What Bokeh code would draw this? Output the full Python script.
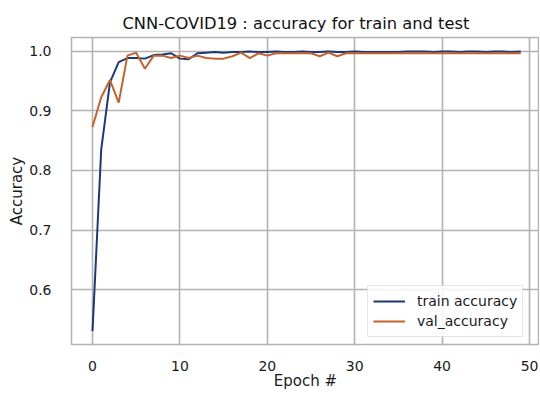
from bokeh.plotting import figure
from bokeh.models import Range1d, FixedTicker, PrintfTickFormatter, Legend, LegendItem
from bokeh.embed import file_html
from bokeh.resources import INLINE

epochs = list(range(50))
train_acc = [0.530, 0.835, 0.948, 0.982, 0.989, 0.989, 0.988, 0.994, 0.995, 0.997,
             0.988, 0.987, 0.997, 0.998, 0.999, 0.998, 0.999, 0.999, 1.000, 0.999,
             0.999, 1.000, 0.999, 0.999, 1.000, 0.999, 0.999, 1.000, 0.999, 0.999,
             1.000, 0.999, 0.999, 0.999, 0.999, 0.999, 1.000, 1.000, 1.000, 0.999,
             1.000, 1.000, 0.999, 1.000, 1.000, 0.999, 1.000, 1.000, 0.999, 1.000]
val_acc = [0.873, 0.923, 0.952, 0.914, 0.993, 0.998, 0.971, 0.993, 0.993, 0.989,
           0.993, 0.989, 0.993, 0.989, 0.988, 0.988, 0.992, 0.998, 0.989, 0.997,
           0.993, 0.997, 0.997, 0.997, 0.997, 0.997, 0.992, 0.998, 0.992, 0.997,
           0.997, 0.997, 0.997, 0.997, 0.997, 0.997, 0.997, 0.997, 0.997, 0.997,
           0.997, 0.997, 0.997, 0.997, 0.997, 0.997, 0.997, 0.997, 0.997, 0.997]
x_ticks = [0, 10, 20, 30, 40, 50]
y_ticks = [0.6, 0.7, 0.8, 0.9, 1.0]

FONT = "DejaVu Sans"
GRID = "#b2b2b2"

p = figure(width=539, height=392, output_backend="svg", toolbar_location=None,
           x_range=Range1d(-2.40, 51.14), y_range=Range1d(0.5076, 1.0235),
           min_border_left=71, min_border_right=0, min_border_top=37, min_border_bottom=40)

p.title.text = "CNN-COVID19 : accuracy for train and test"
p.title.text_font = FONT
p.title.text_font_size = "16.3px"
p.title.text_font_style = "normal"
p.title.align = "left"
p.title.offset = 51
p.title.text_color = "#111111"

r1 = p.line(epochs, train_acc, line_color="#1d3877", line_width=2)
r2 = p.line(epochs, val_acc, line_color="#c4622d", line_width=2)

p.outline_line_color = GRID
p.outline_line_width = 1.5
p.xgrid.grid_line_color = GRID
p.ygrid.grid_line_color = GRID
p.xgrid.grid_line_width = 1.6
p.ygrid.grid_line_width = 1.6
p.xaxis.ticker = FixedTicker(ticks=x_ticks)
p.yaxis.ticker = FixedTicker(ticks=y_ticks)
p.yaxis.formatter = PrintfTickFormatter(format="%.1f")

for ax in (p.xaxis, p.yaxis):
    ax.axis_line_color = None
    ax.major_tick_line_color = None
    ax.minor_tick_line_color = None
    ax.major_label_text_font = FONT
    ax.major_label_text_font_size = "14px"
    ax.major_label_text_color = "#1a1a1a"
    ax.axis_label_text_font = FONT
    ax.axis_label_text_font_size = "15px"
    ax.axis_label_text_font_style = "normal"
    ax.axis_label_text_color = "#1a1a1a"

p.xaxis.axis_label = "Epoch #"
p.yaxis.axis_label = "Accuracy"
p.xaxis.major_label_standoff = 10
p.xaxis.axis_label_standoff = -2
p.yaxis.major_label_standoff = 14
p.yaxis.axis_label_standoff = 0

legend = Legend(items=[LegendItem(label="train accuracy", renderers=[r1]),
                       LegendItem(label="val_accuracy", renderers=[r2])],
                location=(296, 7), margin=0, padding=5, spacing=0,
                label_text_font=FONT, label_text_font_size="14px",
                label_text_color="#1a1a1a", label_height=20, glyph_height=20,
                glyph_width=32, label_standoff=12,
                border_line_color="#cccccc", border_line_width=1.5,
                background_fill_color="white", background_fill_alpha=0.85)
p.add_layout(legend, "center")

open("out.html", "w").write(file_html(p, INLINE))
